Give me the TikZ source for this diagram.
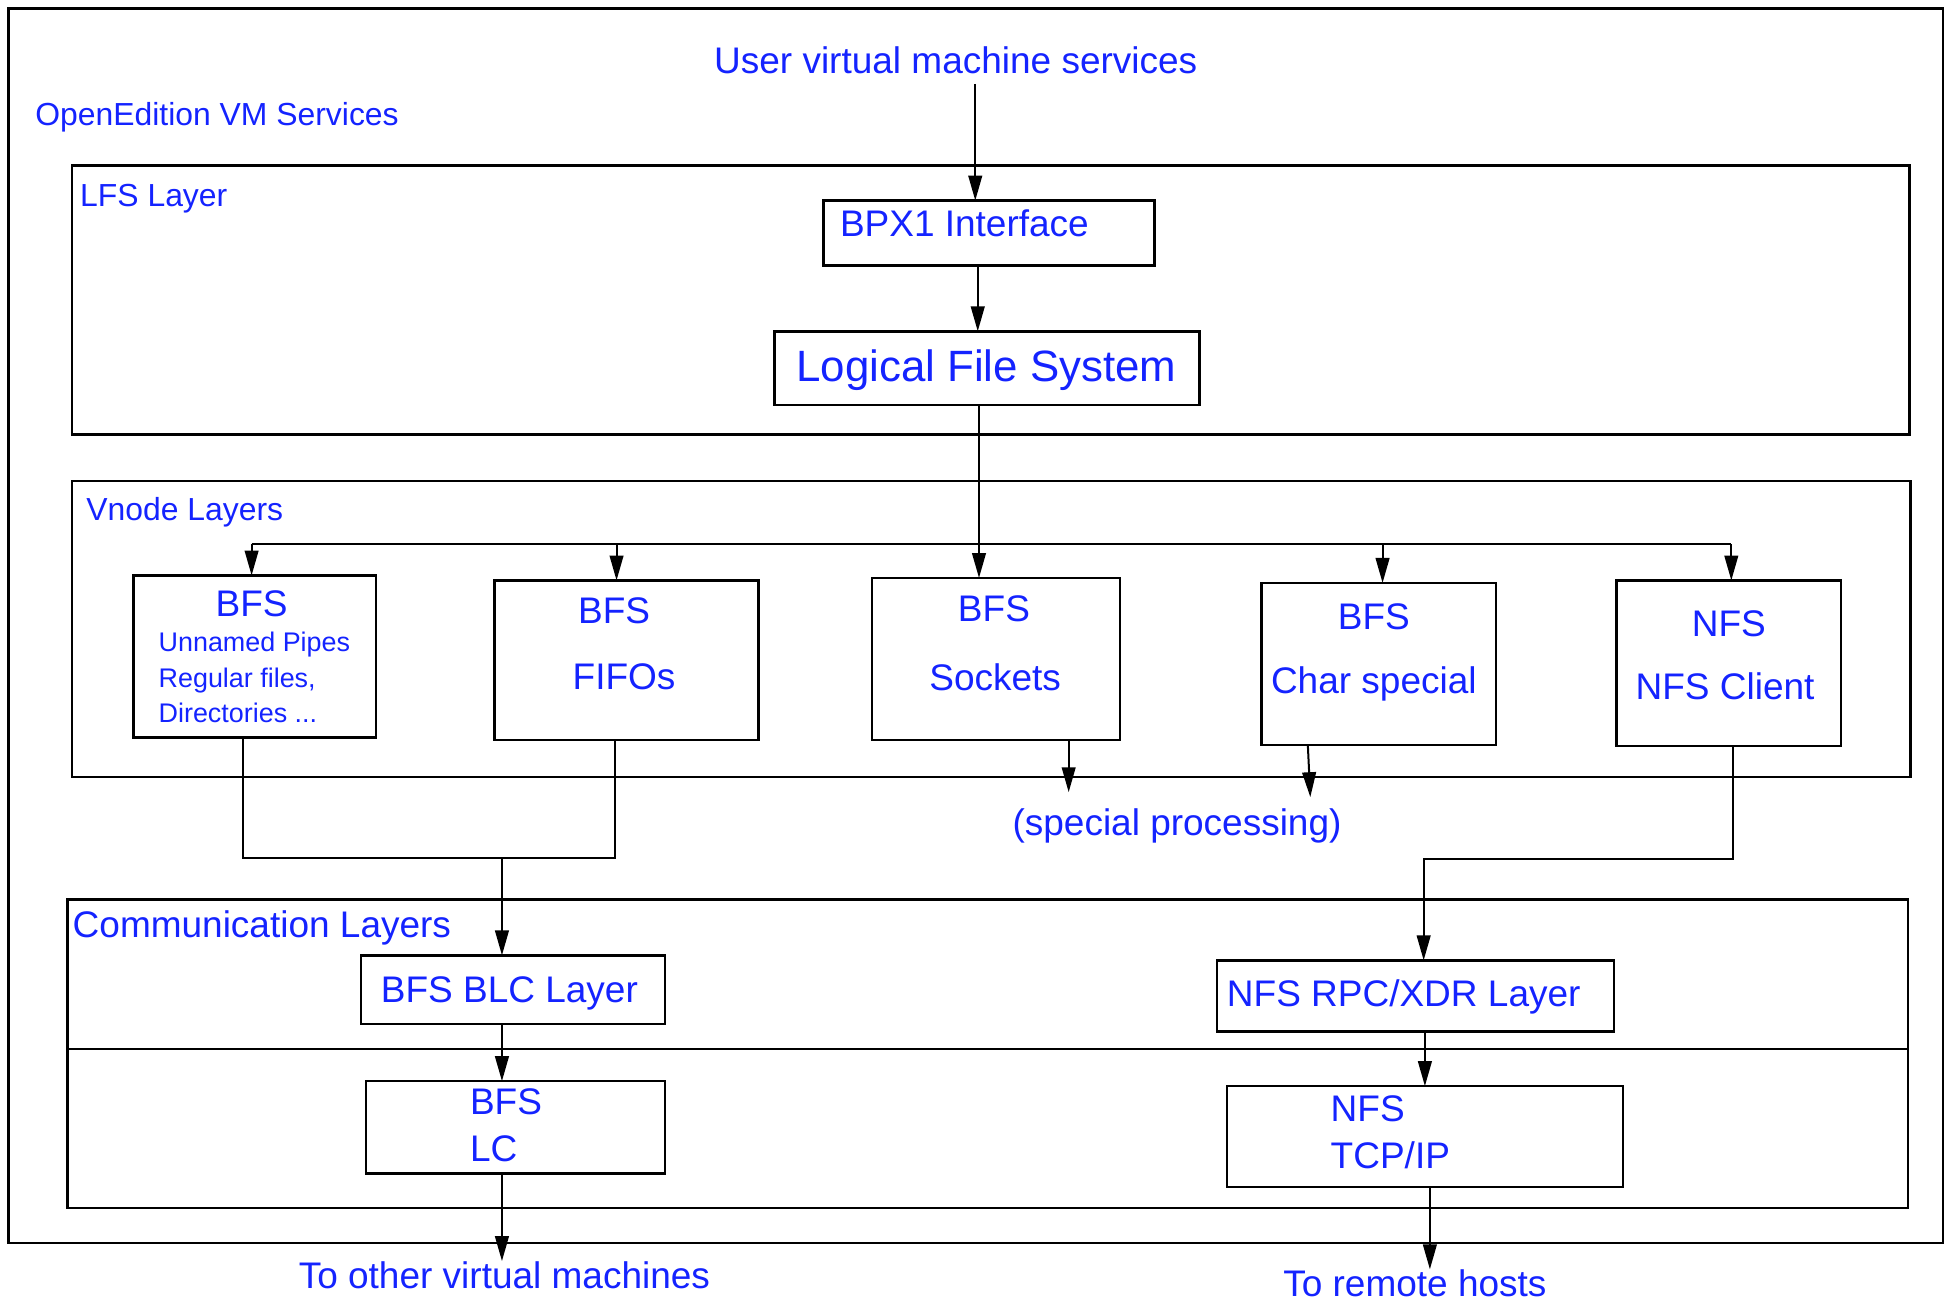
\documentclass[tikz,border=0pt]{standalone}
\usepackage{fontspec}
\setmainfont{Liberation Sans}
\usetikzlibrary{arrows.meta,calc}
\definecolor{txt}{RGB}{20,35,255}
\newcommand{\mybox}[5]{\node[box, minimum width={(#4-#2)*0.5pt}, minimum height={(#5-#3)*0.5pt}] (#1) at ({(#2+#4)/2},{(#3+#5)/2}) {};}
\begin{document}
\begin{tikzpicture}[x=0.5pt,y=-0.5pt,
  box/.style={draw=black, line width=1pt, inner sep=0pt, outer sep=0pt},
  conn/.style={draw=black, line width=0.8pt},
  arr/.style={conn, -{Triangle[length=10pt,width=5.5pt]}},
  txtM/.style={text=txt, inner sep=0pt, font=\fontsize{14.85}{17}\selectfont},
  txtS/.style={text=txt, inner sep=0pt, font=\fontsize{12.8}{15}\selectfont},
  txtL/.style={text=txt, inner sep=0pt, font=\fontsize{17.6}{20}\selectfont},
  txtXS/.style={text=txt, inner sep=0pt, font=\fontsize{10.8}{13}\selectfont}]
\useasboundingbox (0,0) rectangle (1568,1042);
% boxes
\mybox{outer}{7}{7}{1560}{998}
\mybox{lfs}{58}{133}{1533}{349}
\mybox{bpx}{661}{161}{927}{213}
\mybox{lfsys}{622}{266}{963}{325}
\mybox{vnode}{58}{386}{1534}{624}
\mybox{b1}{107}{462}{302}{592}
\mybox{b2}{397}{466}{609}{594}
\mybox{b3}{700}{464}{899}{594}
\mybox{b4}{1013}{468}{1201}{598}
\mybox{b5}{1298}{466}{1478}{599}
\mybox{comm}{54}{722}{1532}{970}
\mybox{blc}{290}{767}{534}{822}
\mybox{rpc}{977}{771}{1296}{828}
\mybox{lc}{294}{868}{534}{942}
\mybox{tcp}{985}{872}{1303}{953}
\coordinate (dl) at (54,842);
\coordinate (dr) at (1532,842);
\draw[box] (dl) -- (dr);
% texts
\node[txtM, anchor=base west, outer ysep=3.8pt] (user) at (573,59.4) {User virtual machine services};
\node[txtS, anchor=base west] (oe) at (28,101) {OpenEdition VM Services};
\node[txtS, anchor=base west] (lfsl) at (64,165.5) {LFS Layer};
\node[txtM, anchor=base west] (bpxt) at (674,190) {BPX1 Interface};
\node[txtL, anchor=base] (lfst) at (792,306.5) {Logical File System};
\node[txtS, anchor=base west] (vnl) at (69,417.5) {Vnode Layers};
\node[txtM, anchor=base] (b1a) at (202,495) {BFS};
\node[txtXS, anchor=base west] (b1b) at (127,523) {Unnamed Pipes};
\node[txtXS, anchor=base west] (b1c) at (127,551.8) {Regular files,};
\node[txtXS, anchor=base west] (b1d) at (127,580.2) {Directories ...};
\node[txtM, anchor=base] (b2a) at (493,500.5) {BFS};
\node[txtM, anchor=base] (b2b) at (501,553.5) {FIFOs};
\node[txtM, anchor=base] (b3a) at (798,499) {BFS};
\node[txtM, anchor=base] (b3b) at (799,554.5) {Sockets};
\node[txtM, anchor=base] (b4a) at (1103,505.3) {BFS};
\node[txtM, anchor=base] (b4b) at (1103,556.7) {Char special};
\node[txtM, anchor=base] (b5a) at (1388,511.2) {NFS};
\node[txtM, anchor=base] (b5b) at (1385,561.5) {NFS Client};
\node[txtM, anchor=base] (spec) at (945,670.4) {(special processing)};
\node[txtM, anchor=base west] (coml) at (58,752.6) {Communication Layers};
\node[txtM, anchor=base] (blct) at (409,805) {BFS BLC Layer};
\node[txtM, anchor=base] (rpct) at (1127,808.2) {NFS RPC/XDR Layer};
\node[txtM, anchor=base west] (lca) at (377,894.4) {BFS};
\node[txtM, anchor=base west] (lcb) at (377,932.7) {LC};
\node[txtM, anchor=base west] (tcpa) at (1068,900.6) {NFS};
\node[txtM, anchor=base west] (tcpb) at (1068,938) {TCP/IP};
\node[txtM, anchor=base] (toother) at (405,1034.4) {To other virtual machines};
\node[txtM, anchor=base] (toremote) at (1136,1041) {To remote hosts};
% helper x positions
\coordinate (xa) at (783,0);
\coordinate (xb) at (785,0);
\coordinate (xc) at (786,0);
\coordinate (xd) at (495,0);
\coordinate (xe) at (403,0);
\coordinate (xg) at (1144,0);
\coordinate (xh) at (1148,0);
\coordinate (x4) at (1110,0);
\coordinate (busL) at (202,437);
\coordinate (busR) at (1390,437);
\coordinate (j1) at (195,689);
\coordinate (j2) at (494,689);
\coordinate (s1) at (858,636);
\coordinate (s2t) at (1050,0);
\coordinate (s2) at (1052,640);
\coordinate (k1) at (1391,690);
\coordinate (k2) at (1143,690);
% connectors
\draw[arr] (user.south -| xa) -- (bpx.north -| xa);
\draw[arr] (bpx.south -| xb) -- (lfsys.north -| xb);
\draw[arr] (lfsys.south -| xc) -- (b3.north -| xc);
\draw[conn, line width=0.9pt] (busL) -- (busR);
\draw[arr] (busL) -- (b1.north -| busL);
\draw[arr] (busL -| xd) -- (b2.north -| xd);
\draw[arr] (busL -| x4) -- (b4.north -| x4);
\draw[arr] (busR) -- (b5.north -| busR);
\draw[conn] (b1.south -| j1) -- (j1) -- (j2) -- (b2.south -| j2);
\draw[arr] (j1 -| xe) -- (blc.north -| xe);
\draw[arr] (b3.south -| s1) -- (s1);
\draw[arr] (b4.south -| s2t) -- (s2);
\draw[arr] (b5.south -| k1) -- (k1) -- (k2) -- (rpc.north -| k2);
\draw[arr] (blc.south -| xe) -- (lc.north -| xe);
\draw[arr] (rpc.south -| xg) -- (tcp.north -| xg);
\draw[arr] (lc.south -| xe) -- (toother.north -| xe);
\draw[arr] (tcp.south -| xh) -- (toremote.north -| xh);
\end{tikzpicture}
\end{document}
